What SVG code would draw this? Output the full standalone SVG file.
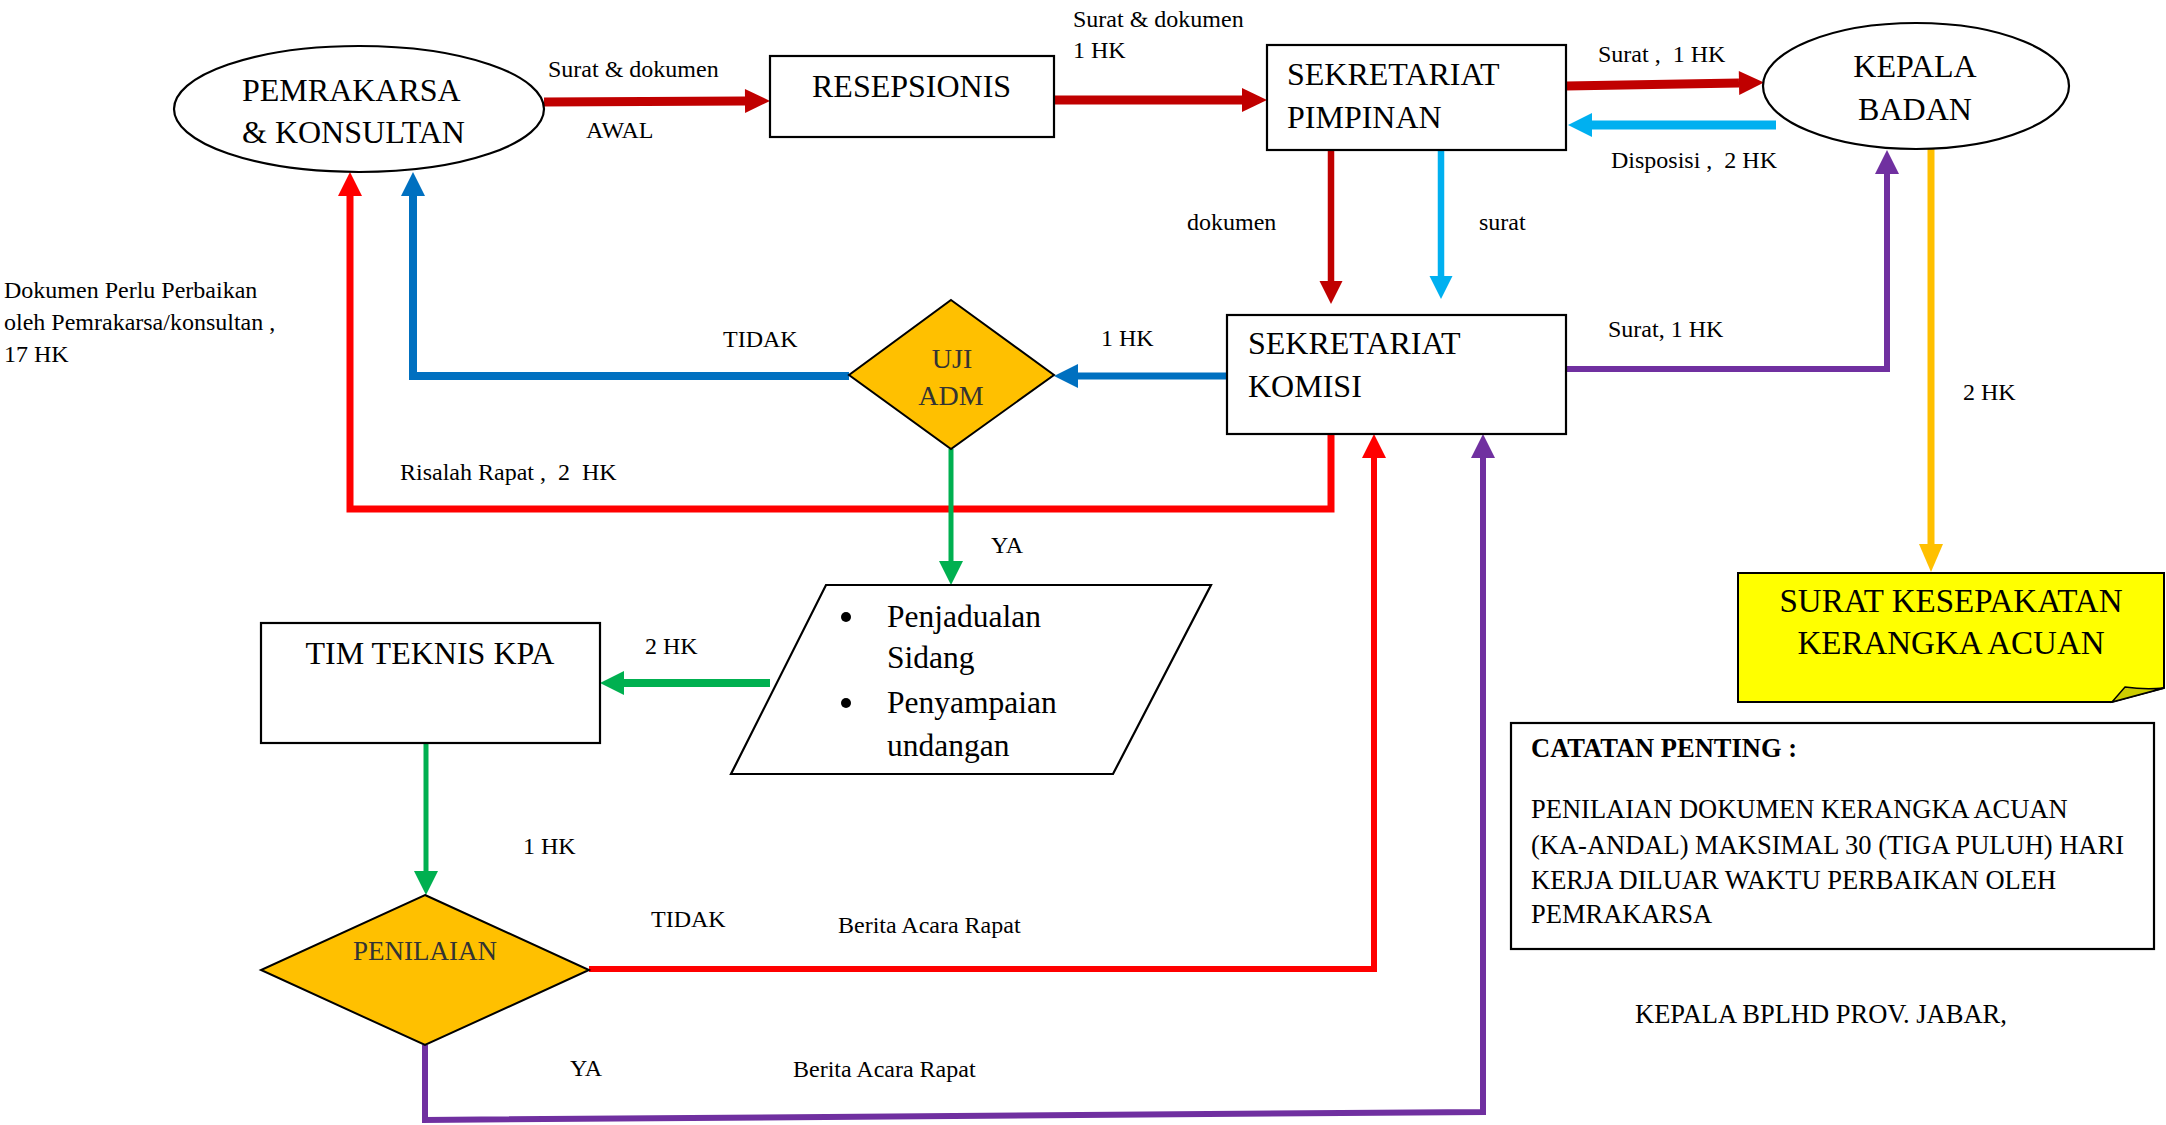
<svg xmlns="http://www.w3.org/2000/svg" width="2166" height="1125" viewBox="0 0 2166 1125">
<style>
  text { font-family: "Liberation Serif", "Times New Roman", serif; fill: #000; }
  .node { font-size: 32px; }
  .lbl { font-size: 24px; white-space: pre; }
  .dia { font-size: 27px; fill: #333; }
  .note { font-size: 26.5px; }
  .box { fill: #fff; stroke: #000; stroke-width: 2.2; }
  .c { fill: none; stroke-linejoin: miter; stroke-linecap: butt; }
</style>
<defs>
  <marker id="hDRedBig" markerUnits="userSpaceOnUse" markerWidth="26" markerHeight="26" refX="0" refY="12" orient="auto" overflow="visible"><path d="M0,0 L25,12 L0,24 Z" fill="#C00000"/></marker>
  <marker id="hCyanBig" markerUnits="userSpaceOnUse" markerWidth="26" markerHeight="26" refX="0" refY="12" orient="auto" overflow="visible"><path d="M0,0 L24,12 L0,24 Z" fill="#00B0F0"/></marker>
  <marker id="hDRed" markerUnits="userSpaceOnUse" markerWidth="26" markerHeight="26" refX="0" refY="11.5" orient="auto" overflow="visible"><path d="M0,0 L23,11.5 L0,23 Z" fill="#C00000"/></marker>
  <marker id="hCyan" markerUnits="userSpaceOnUse" markerWidth="26" markerHeight="26" refX="0" refY="11.5" orient="auto" overflow="visible"><path d="M0,0 L23,11.5 L0,23 Z" fill="#00B0F0"/></marker>
  <marker id="hRed" markerUnits="userSpaceOnUse" markerWidth="26" markerHeight="26" refX="0" refY="12" orient="auto" overflow="visible"><path d="M0,0 L24,12 L0,24 Z" fill="#FF0000"/></marker>
  <marker id="hBlue" markerUnits="userSpaceOnUse" markerWidth="26" markerHeight="26" refX="0" refY="12" orient="auto" overflow="visible"><path d="M0,0 L24,12 L0,24 Z" fill="#0070C0"/></marker>
  <marker id="hPurple" markerUnits="userSpaceOnUse" markerWidth="26" markerHeight="26" refX="0" refY="12" orient="auto" overflow="visible"><path d="M0,0 L24,12 L0,24 Z" fill="#7030A0"/></marker>
  <marker id="hYellow" markerUnits="userSpaceOnUse" markerWidth="26" markerHeight="26" refX="0" refY="12" orient="auto" overflow="visible"><path d="M0,0 L28,12 L0,24 Z" fill="#FFC000"/></marker>
  <marker id="hGreen" markerUnits="userSpaceOnUse" markerWidth="26" markerHeight="26" refX="0" refY="12" orient="auto" overflow="visible"><path d="M0,0 L24,12 L0,24 Z" fill="#00B050"/></marker>
</defs>
<rect width="2166" height="1125" fill="#fff"/>

<g id="connectors">
  <path class="c" d="M544,102 L745,101" stroke="#C00000" stroke-width="9" marker-end="url(#hDRedBig)"/>
  <path class="c" d="M1054,100 L1242,100" stroke="#C00000" stroke-width="9" marker-end="url(#hDRedBig)"/>
  <path class="c" d="M1566,86 L1739,83" stroke="#C00000" stroke-width="9" marker-end="url(#hDRedBig)"/>
  <path class="c" d="M1776,125 L1592,125" stroke="#00B0F0" stroke-width="9" marker-end="url(#hCyanBig)"/>
  <path class="c" d="M1331,150 L1331,281" stroke="#C00000" stroke-width="6.5" marker-end="url(#hDRed)"/>
  <path class="c" d="M1441,146 L1441,276" stroke="#00B0F0" stroke-width="6.5" marker-end="url(#hCyan)"/>
  <path class="c" d="M1566,369 L1887,369 L1887,174" stroke="#7030A0" stroke-width="6" marker-end="url(#hPurple)"/>
  <path class="c" d="M1931,149 L1931,544" stroke="#FFC000" stroke-width="7" marker-end="url(#hYellow)"/>
  <path class="c" d="M1227,376 L1078,376" stroke="#0070C0" stroke-width="7" marker-end="url(#hBlue)"/>
  <path class="c" d="M849,376 L413,376 L413,196" stroke="#0070C0" stroke-width="8" marker-end="url(#hBlue)"/>
  <path class="c" d="M1331,434 L1331,509 L350,509 L350,196" stroke="#FF0000" stroke-width="7" marker-end="url(#hRed)"/>
  <path class="c" d="M951,449 L951,561" stroke="#00B050" stroke-width="5" marker-end="url(#hGreen)"/>
  <path class="c" d="M770,683 L624,683" stroke="#00B050" stroke-width="8" marker-end="url(#hGreen)"/>
  <path class="c" d="M426,743 L426,871" stroke="#00B050" stroke-width="5" marker-end="url(#hGreen)"/>
  <path class="c" d="M589,969 L1374,969 L1374,458" stroke="#FF0000" stroke-width="6" marker-end="url(#hRed)"/>
  <path class="c" d="M425,1045 L425,1120 L1483,1112 L1483,458" stroke="#7030A0" stroke-width="6" marker-end="url(#hPurple)"/>
</g>

<g id="labels">
  <text class="lbl" x="548" y="77">Surat &amp; dokumen</text>
  <text class="lbl" x="586" y="138">AWAL</text>
  <text class="lbl" x="1073" y="27">Surat &amp; dokumen</text>
  <text class="lbl" x="1073" y="58">1 HK</text>
  <text class="lbl" x="1598" y="62">Surat ,  1 HK</text>
  <text class="lbl" x="1611" y="168">Disposisi ,  2 HK</text>
  <text class="lbl" x="1187" y="230">dokumen</text>
  <text class="lbl" x="1479" y="230">surat</text>
  <text class="lbl" x="1608" y="337">Surat, 1 HK</text>
  <text class="lbl" x="1963" y="400">2 HK</text>
  <text class="lbl" x="1101" y="346">1 HK</text>
  <text class="lbl" x="723" y="347">TIDAK</text>
  <text class="lbl" x="400" y="480">Risalah Rapat ,  2  HK</text>
  <text class="lbl" x="991" y="553">YA</text>
  <text class="lbl" x="4" y="298">Dokumen Perlu Perbaikan</text>
  <text class="lbl" x="4" y="330">oleh Pemrakarsa/konsultan ,</text>
  <text class="lbl" x="4" y="362">17 HK</text>
  <text class="lbl" x="645" y="654">2 HK</text>
  <text class="lbl" x="523" y="854">1 HK</text>
  <text class="lbl" x="651" y="927">TIDAK</text>
  <text class="lbl" x="838" y="933">Berita Acara Rapat</text>
  <text class="lbl" x="570" y="1076">YA</text>
  <text class="lbl" x="793" y="1077">Berita Acara Rapat</text>
</g>

<g id="pemrakarsa">
  <ellipse class="box" cx="359" cy="109" rx="185" ry="63"/>
  <text class="node" x="242" y="101">PEMRAKARSA</text>
  <text class="node" x="242" y="143">&amp; KONSULTAN</text>
</g>

<g id="resepsionis">
  <rect class="box" x="770" y="56" width="284" height="81"/>
  <text class="node" x="812" y="97">RESEPSIONIS</text>
</g>

<g id="sekretariat-pimpinan">
  <rect class="box" x="1267" y="45" width="299" height="105"/>
  <text class="node" x="1287" y="85">SEKRETARIAT</text>
  <text class="node" x="1287" y="128">PIMPINAN</text>
</g>

<g id="kepala-badan">
  <ellipse class="box" cx="1916" cy="86" rx="153" ry="63"/>
  <text class="node" x="1915" y="77" text-anchor="middle">KEPALA</text>
  <text class="node" x="1915" y="120" text-anchor="middle">BADAN</text>
</g>

<g id="sekretariat-komisi">
  <rect class="box" x="1227" y="315" width="339" height="119"/>
  <text class="node" x="1248" y="354">SEKRETARIAT</text>
  <text class="node" x="1248" y="397">KOMISI</text>
</g>

<g id="uji-adm">
  <polygon points="951,300 1054,375 951,449 849,375" fill="#FFC000" stroke="#000" stroke-width="2"/>
  <text class="dia" x="952" y="368" text-anchor="middle" style="font-size:28px">UJI</text>
  <text class="dia" x="951" y="405" text-anchor="middle" style="font-size:28px">ADM</text>
</g>

<g id="penjadualan">
  <polygon class="box" points="826,585 1211,585 1113,774 731,774"/>
  <circle cx="846" cy="617" r="5" fill="#000"/>
  <circle cx="846" cy="703" r="5" fill="#000"/>
  <text class="node" x="887" y="627" style="font-size:31.5px">Penjadualan</text>
  <text class="node" x="887" y="668" style="font-size:31.5px">Sidang</text>
  <text class="node" x="887" y="713" style="font-size:31.5px">Penyampaian</text>
  <text class="node" x="887" y="756" style="font-size:31.5px">undangan</text>
</g>

<g id="tim-teknis">
  <rect class="box" x="261" y="623" width="339" height="120"/>
  <text class="node" x="430" y="664" text-anchor="middle">TIM TEKNIS KPA</text>
</g>

<g id="penilaian">
  <polygon points="425,895 589,970 425,1045 261,970" fill="#FFC000" stroke="#000" stroke-width="2"/>
  <text class="dia" x="425" y="960" text-anchor="middle">PENILAIAN</text>
</g>

<g id="surat-kesepakatan">
  <path d="M1738,573 L2164,573 L2164,688 L2112,702 L1738,702 Z" fill="#FFFF00" stroke="#000" stroke-width="2"/>
  <path d="M2112,702 L2125,687 Q2145,690 2164,688 Z" fill="#CCCC00" stroke="#000" stroke-width="1.5"/>
  <text class="node" x="1951" y="612" text-anchor="middle" style="font-size:33px">SURAT KESEPAKATAN</text>
  <text class="node" x="1951" y="654" text-anchor="middle" style="font-size:33px">KERANGKA ACUAN</text>
</g>

<g id="catatan">
  <rect class="box" x="1511" y="723" width="643" height="226"/>
  <text class="note" x="1531" y="757" font-weight="bold">CATATAN PENTING :</text>
  <text class="note" x="1531" y="818">PENILAIAN DOKUMEN KERANGKA ACUAN</text>
  <text class="note" x="1531" y="854">(KA-ANDAL) MAKSIMAL 30 (TIGA PULUH) HARI</text>
  <text class="note" x="1531" y="889">KERJA DILUAR WAKTU PERBAIKAN OLEH</text>
  <text class="note" x="1531" y="923">PEMRAKARSA</text>
</g>

<g id="signature">
  <text class="note" x="1635" y="1023">KEPALA BPLHD PROV. JABAR,</text>
</g>
</svg>
